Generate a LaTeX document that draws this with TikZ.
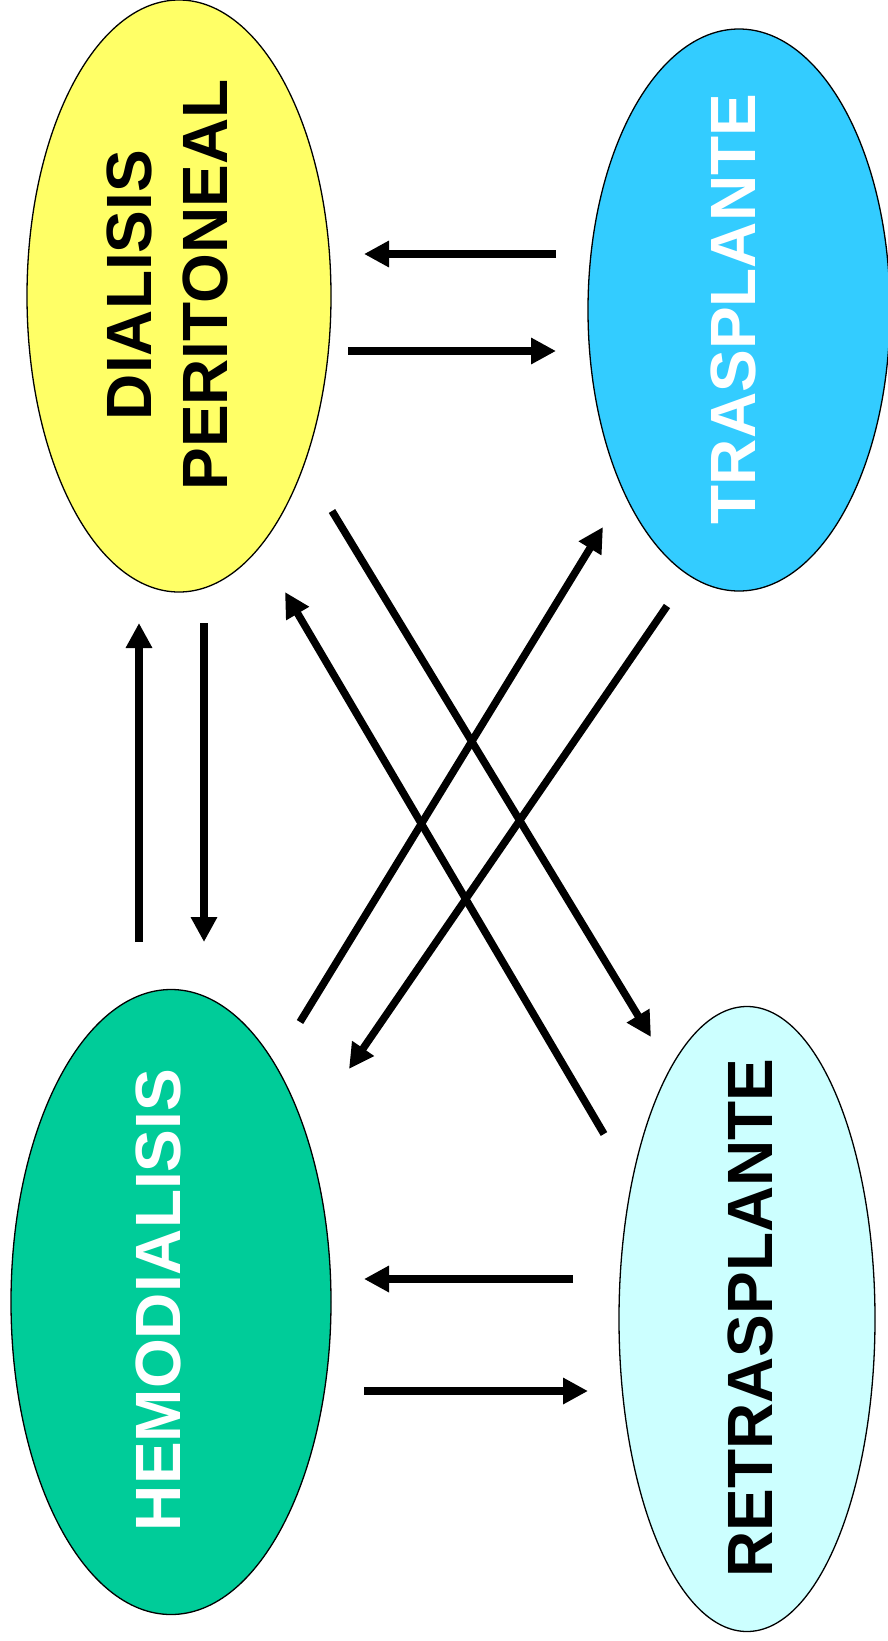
\documentclass[tikz,border=0pt]{standalone}
\usepackage{fontspec}
\setmainfont{Liberation Sans}
\usetikzlibrary{shapes.geometric,arrows.meta}
\definecolor{dpyellow}{HTML}{FFFF66}
\definecolor{txblue}{HTML}{33CCFF}
\definecolor{hdgreen}{HTML}{00CC99}
\definecolor{rtcyan}{HTML}{CCFFFF}
\begin{document}
\begin{tikzpicture}[x=1pt,y=-1pt,
  oval/.style={ellipse,draw=black,line width=1.3pt,inner sep=0pt},
  lbl/.style={rotate=90,font=\fontsize{64}{76}\selectfont\bfseries,align=center,inner sep=0pt},
  conn/.style={line width=7.5pt,-{Triangle[length=25pt,width=25pt]}}]
\useasboundingbox (0,0) rectangle (888,1641);
% ellipses
\node[oval,fill=dpyellow,minimum width=304pt,minimum height=592pt] (dp) at (179,296) {};
\node[oval,fill=txblue,minimum width=302pt,minimum height=562pt] (tx) at (739,310) {};
\node[oval,fill=hdgreen,minimum width=320pt,minimum height=625pt] (hd) at (171,1302) {};
\node[oval,fill=rtcyan,minimum width=256pt,minimum height=625pt] (rt) at (747,1319) {};
% labels
\node[lbl] (dpl) at (167,285) {DIALISIS\\PERITONEAL};
\node[lbl,text=white] (txl) at (733,309) {TRASPLANTE};
\node[lbl,text=white] (hdl) at (158,1300) {HEMODIALISIS};
\node[lbl] (rtl) at (750,1318) {RETRASPLANTE};
% arrow end points
\coordinate (a1s) at (556,254); \coordinate (a1e) at (364,254);
\coordinate (a2s) at (348,351); \coordinate (a2e) at (556,351);
\coordinate (a3s) at (139,942); \coordinate (a3e) at (139,623);
\coordinate (a4s) at (204,623); \coordinate (a4e) at (204,942);
\coordinate (a5s) at (332,511); \coordinate (a5e) at (651,1037);
\coordinate (a6s) at (604,1134); \coordinate (a6e) at (285,592);
\coordinate (a7s) at (300,1022); \coordinate (a7e) at (603,527);
\coordinate (a8s) at (667,606); \coordinate (a8e) at (349,1069);
\coordinate (a9s) at (573,1279); \coordinate (a9e) at (364,1279);
\coordinate (a10s) at (364,1391); \coordinate (a10e) at (588,1391);
% connectors
\draw[conn] (a1s) -- (a1e);
\draw[conn] (a2s) -- (a2e);
\draw[conn] (a3s) -- (a3e);
\draw[conn] (a4s) -- (a4e);
\draw[conn] (a5s) -- (a5e);
\draw[conn] (a6s) -- (a6e);
\draw[conn] (a7s) -- (a7e);
\draw[conn] (a8s) -- (a8e);
\draw[conn] (a9s) -- (a9e);
\draw[conn] (a10s) -- (a10e);
\end{tikzpicture}
\end{document}
